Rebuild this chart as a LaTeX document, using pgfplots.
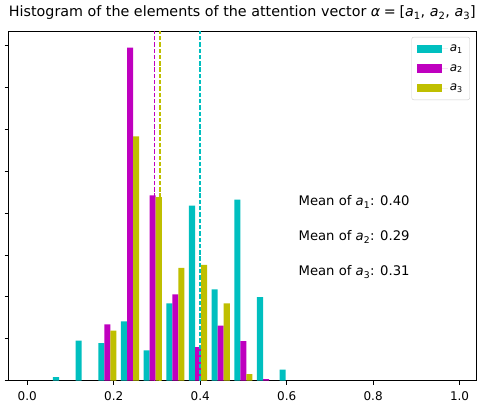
\documentclass[border=0pt]{standalone}
\usepackage{fontspec}
\setmainfont{DejaVu Sans}
\usepackage{pgfplots}
\pgfplotsset{compat=1.18}
\definecolor{mplc}{rgb}{0,0.75,0.75}
\definecolor{mplm}{rgb}{0.75,0,0.75}
\definecolor{mply}{rgb}{0.75,0.75,0}
\newcommand{\ai}[1]{\textit{a}\textsubscript{#1}}
\pgfplotsset{
  histbar/.style={ybar, bar width=0.01398, bar shift=0pt, draw=none, fill=#1,
    legend image code/.code={\fill[#1, sharp corners] (0pt,-4.2pt) rectangle (25pt,4.2pt);
      \path (0pt,0pt) -- (31pt,0pt);}},
  meanline/.style={color=#1, line width=1.3pt, dash pattern=on 4.4pt off 1.9pt, forget plot},
}
\tikzset{meantext/.style={anchor=base west, inner xsep=0pt, font=\fontsize{13.2}{15}\selectfont}}
\begin{document}
\begin{tikzpicture}
\begin{axis}[
  scale only axis, width=467.3pt, height=349.5pt,
  xmin=-0.043, xmax=1.038, ymin=0, ymax=8.35,
  xtick={0,0.2,0.4,0.6,0.8,1.0}, ytick={0,1,...,8}, yticklabels={},
  xticklabel style={yshift=-3pt, /pgf/number format/.cd, fixed, fixed zerofill, precision=1, assume math mode=true},
  yticklabel style={overlay},
  tick align=outside, tick pos=left, major tick length=4.2pt,
  ticklabel style={font=\fontsize{12}{14}\selectfont},
  axis line style={line width=0.8pt}, tick style={line width=0.8pt, black},
  title={Histogram of the elements of the attention vector \textit{α}\hspace{0.25em}=\hspace{0.25em}[\ai{1}, \ai{2}, \ai{3}]},
  title style={font=\fontsize{14.3}{17}\selectfont, at={(0.5,1)}, anchor=base, yshift=8.3pt, inner sep=0pt},
  legend style={at={(0.987,0.983)}, anchor=north east, draw=black!20, rounded corners=2pt,
    font=\fontsize{12}{14}\selectfont, row sep=7.5pt, inner xsep=5pt, inner ysep=5.5pt, cells={anchor=west}},
  clip=false,
]
% density histogram, 11 bins
\addplot[histbar=mplc] coordinates {
  (0.0664,0.08) (0.1188,0.955) (0.1713,0.89) (0.2237,1.41) (0.2761,0.72) (0.3286,1.84)
  (0.3810,4.18) (0.4334,2.18) (0.4858,4.32) (0.5383,1.99) (0.5907,0.26)};
\addlegendentry{\ai{1}}
\addplot[histbar=mplm] coordinates {
  (0.1853,1.34) (0.2377,7.95) (0.2901,4.42) (0.3426,2.06)
  (0.3950,0.795) (0.4474,1.31) (0.4998,0.94) (0.5523,0.03)};
\addlegendentry{\ai{2}}
\addplot[histbar=mply] coordinates {
  (0.1993,1.19) (0.2517,5.83) (0.3041,4.38) (0.3566,2.69)
  (0.4090,2.76) (0.4614,1.84) (0.5138,0.15)};
\addlegendentry{\ai{3}}
% means
\addplot[meanline=mplc] coordinates {(0.3994,0) (0.3994,8.35)};
\addplot[meanline=mplm] coordinates {(0.2946,0) (0.2946,8.35)};
\addplot[meanline=mply] coordinates {(0.3069,0) (0.3069,8.35)};
\node[meantext] at (rel axis cs:0.62,0.5) {Mean of \ai{1}: 0.40};
\node[meantext] at (rel axis cs:0.62,0.4) {Mean of \ai{2}: 0.29};
\node[meantext] at (rel axis cs:0.62,0.3) {Mean of \ai{3}: 0.31};
\end{axis}
\path ([shift={(-8.7pt,-24.5pt)}]current axis.south west) rectangle ([shift={(1pt,31pt)}]current axis.north east);
\end{tikzpicture}
\end{document}
